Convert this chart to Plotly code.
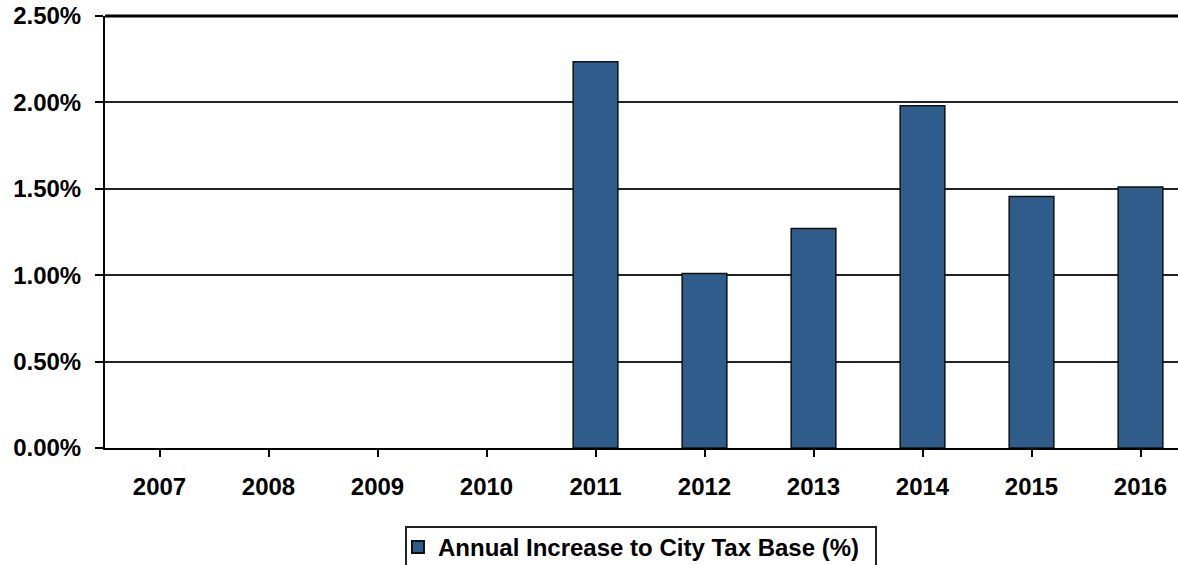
import plotly.graph_objects as go

years = ["2007", "2008", "2009", "2010", "2011", "2012", "2013", "2014", "2015", "2016"]
increase_pct = [None, None, None, None, 2.235, 1.01, 1.27, 1.98, 1.455, 1.51]
y_ticks = [0, 0.5, 1.0, 1.5, 2.0, 2.5]
y_tick_labels = ["0.00%", "0.50%", "1.00%", "1.50%", "2.00%", "2.50%"]
series_name = "Annual Increase to City Tax Base (%)"

W, H = 1178, 565
L, T, B = 105, 16, 117
plot_w = W - L
plot_h = H - T - B
cat_px = 109.0
x_hi = -0.5 + plot_w / cat_px

def px_x(p):
    return (p - L) / plot_w

def px_y(p):
    return (H - B - p) / plot_h

font = dict(family="Arial, Liberation Sans, sans-serif", size=24, color="black", weight="bold")

fig = go.Figure()
fig.add_trace(go.Bar(
    x=list(range(len(years))), y=increase_pct, name=series_name,
    width=0.41,
    marker=dict(color="#2E5C8B", line=dict(color="#111111", width=1.5)),
    showlegend=True,
))

fig.update_layout(
    width=W, height=H,
    margin=dict(l=L, r=0, t=T, b=B, autoexpand=False),
    paper_bgcolor="white", plot_bgcolor="white",
    font=font,
    showlegend=True,
    legend=dict(
        x=px_x(398), y=px_y(525), xanchor="left", yanchor="top",
        orientation="h", borderwidth=0, bgcolor="rgba(0,0,0,0)",
        font=dict(family="Arial, Liberation Sans, sans-serif", size=24, color="black", weight="bold"),
        itemsizing="constant",
    ),
)
fig.update_xaxes(
    range=[-0.5, x_hi],
    tickmode="array", tickvals=list(range(len(years))), ticktext=years,
    tickson="boundaries", ticks="outside", ticklen=7, tickwidth=1.5, tickcolor="black",
    showline=True, linecolor="black", linewidth=2,
    showgrid=False, zeroline=False,
    ticklabelstandoff=9,
    automargin=False,
    fixedrange=True,
)
fig.update_yaxes(
    range=[0, 2.5],
    tickmode="array", tickvals=y_ticks, ticktext=y_tick_labels,
    ticks="outside", ticklen=8, tickwidth=1.5, tickcolor="black",
    showline=True, linecolor="black", linewidth=2,
    showgrid=True, gridcolor="#222222", gridwidth=1.5,
    zeroline=False, ticklabelstandoff=9,
    automargin=False,
    fixedrange=True,
)
# top border of plot area
fig.add_shape(type="line", xref="paper", yref="paper", x0=0, x1=1, y0=1, y1=1,
              line=dict(color="black", width=3))
# legend frame (extends past bottom edge like reference)
fig.add_shape(type="rect", xref="paper", yref="paper",
              x0=px_x(406), x1=px_x(876), y0=px_y(527), y1=px_y(580),
              line=dict(color="#222222", width=2), fillcolor="rgba(0,0,0,0)")

fig.write_html("out.html")
